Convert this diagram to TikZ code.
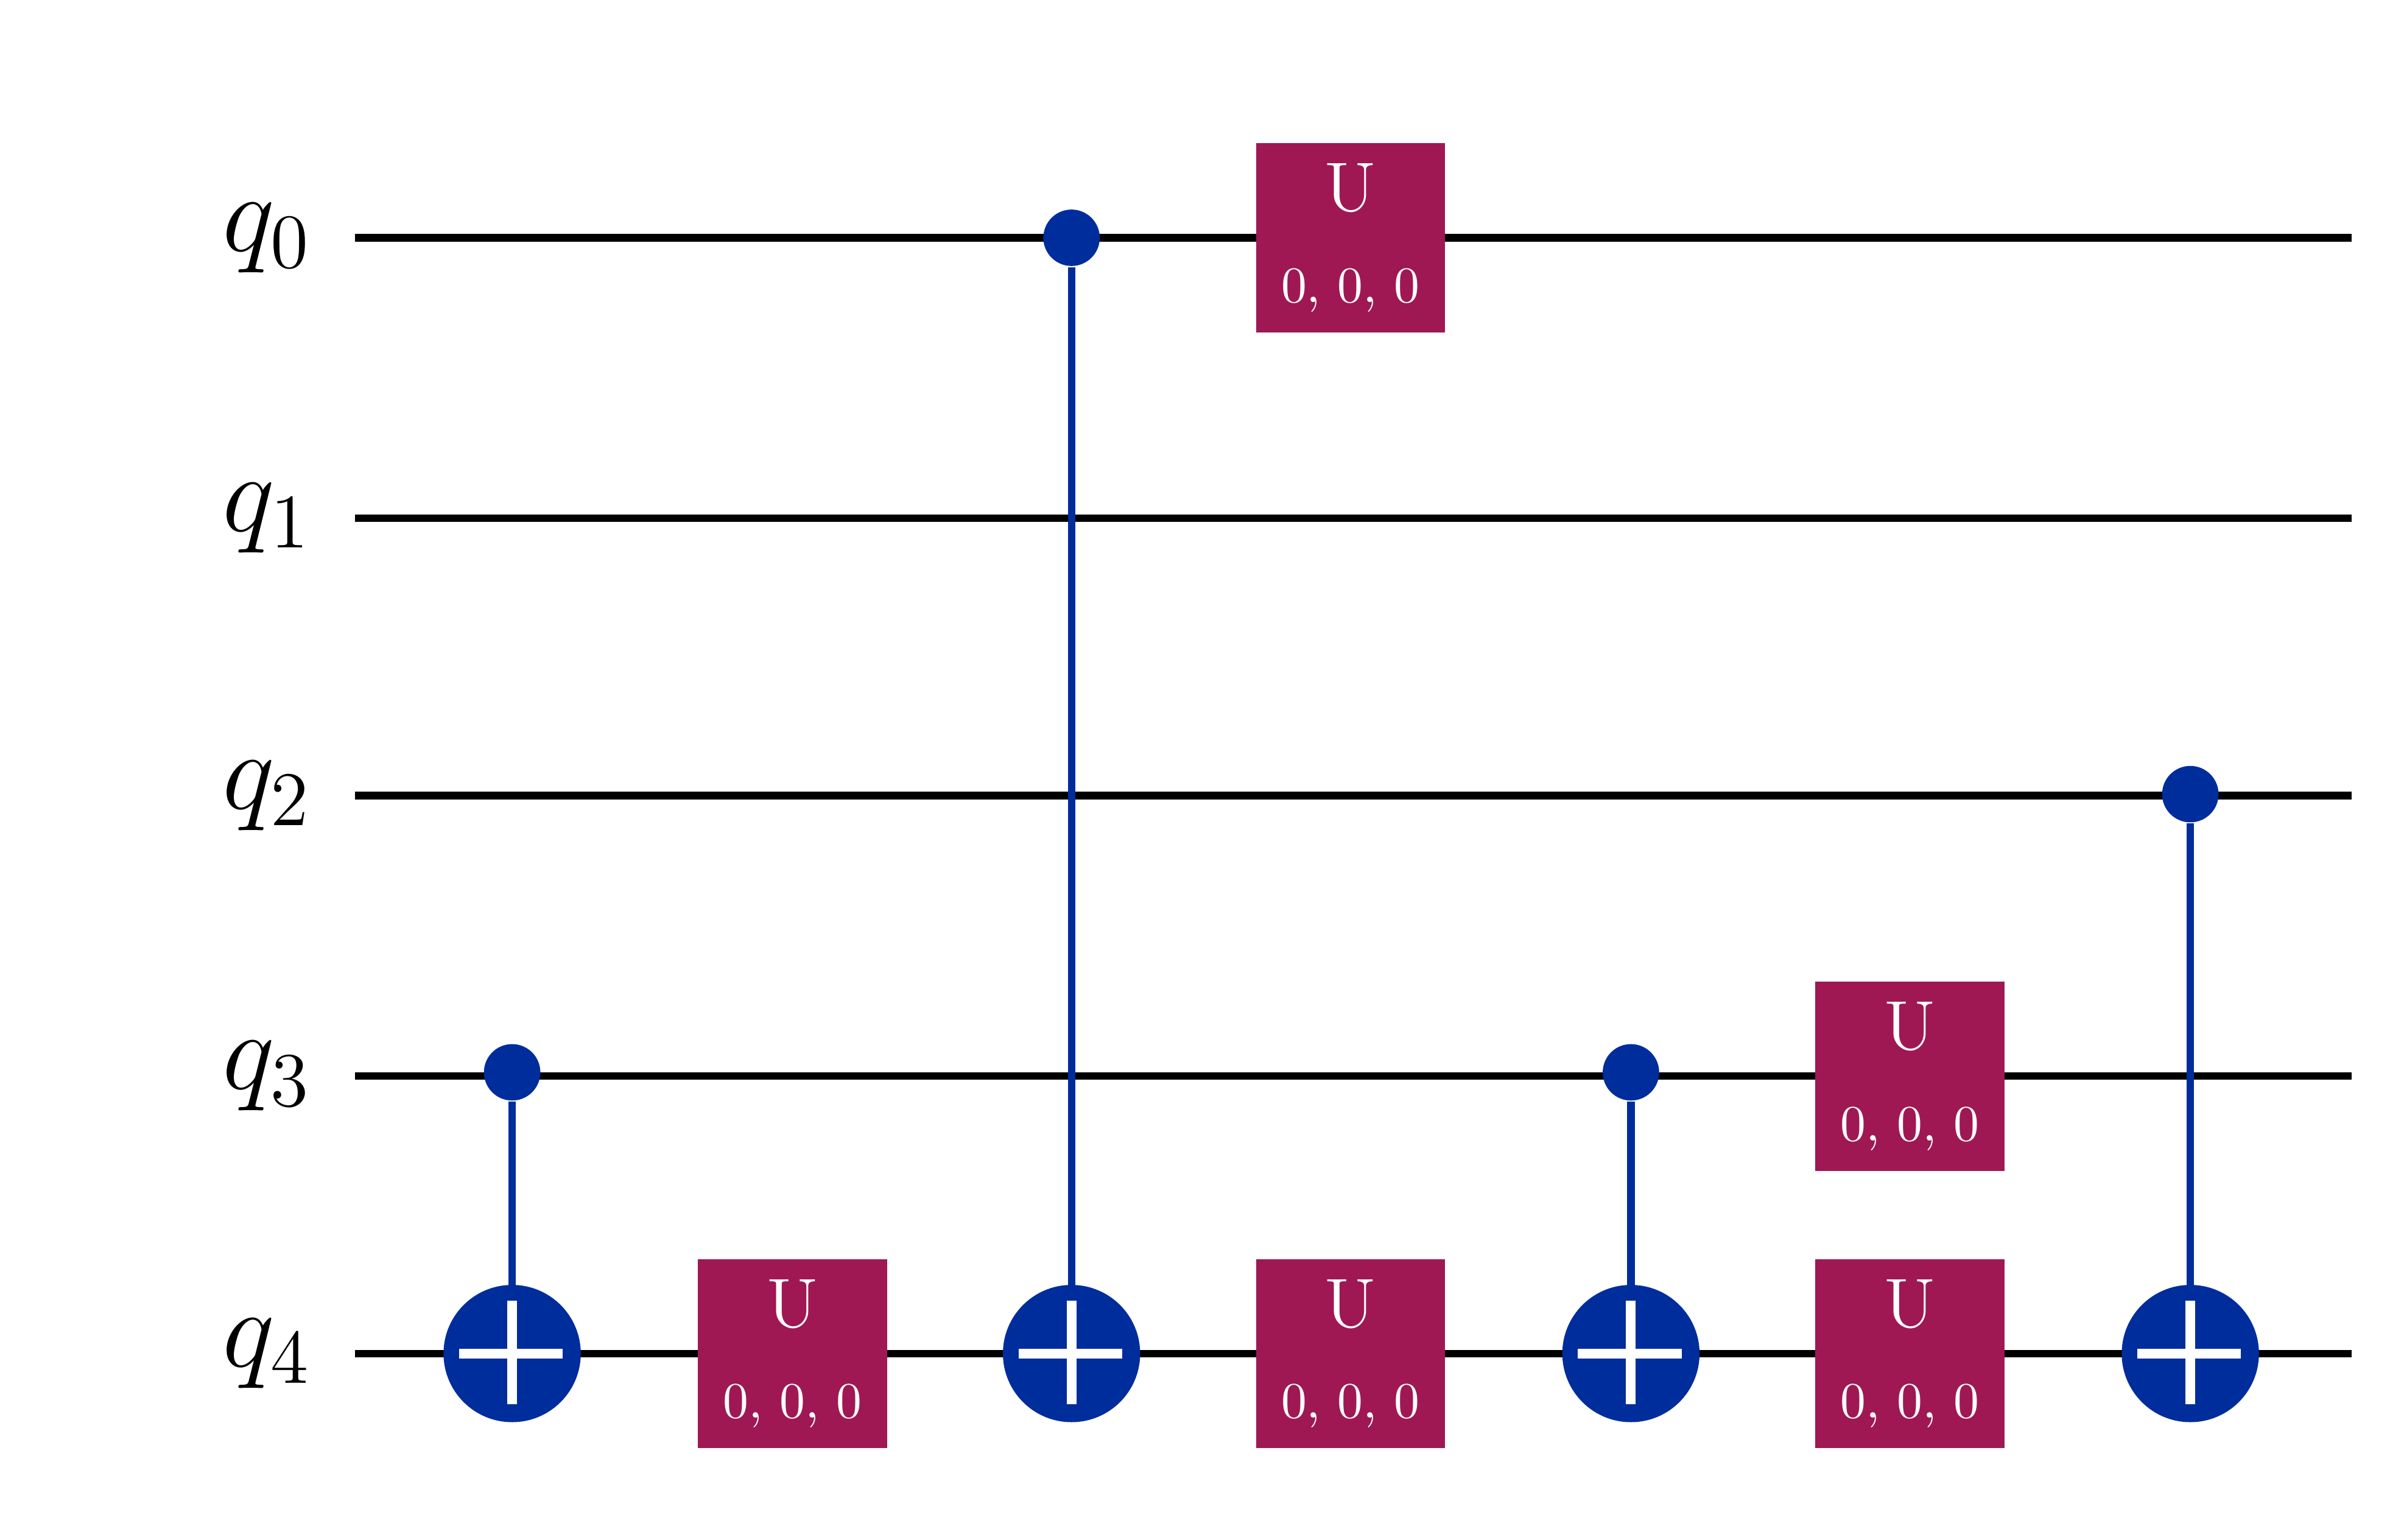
\documentclass[tikz,border=0pt]{standalone}
\usetikzlibrary{positioning}
\definecolor{ctrlblue}{HTML}{002D9C}
\definecolor{ugate}{HTML}{9F1853}
\begin{document}
\begin{tikzpicture}[x=0.01cm,y=-0.01cm,
    wire/.style={line width=1.4pt},
    ctrl/.style={circle,fill=ctrlblue,inner sep=0pt,minimum size=0.37cm},
    targ/.style={circle,fill=ctrlblue,inner sep=0pt,minimum size=0.9cm},
    link/.style={ctrlblue,line width=1.4pt},
    ubox/.style={fill=ugate,minimum size=1.24cm,inner sep=0pt,text=white,
      align=center,font=\fontsize{13}{15}\selectfont}
    ]
    \useasboundingbox (0,0) rectangle (1568,1010);

    % wires and labels
    \foreach \i/\y in {0/156,1/340,2/522,3/706,4/888} {
      \node (q\i) at (175,\y) {\fontsize{20}{24}\selectfont$q_{\i}$};
      \coordinate (s\i) at (233,\y);
      \coordinate (e\i) at (1543,\y);
      \draw[wire] (s\i) -- (e\i);
    }

    % controlled nots
    \foreach \n/\x/\c in {a/336/3,b/703/0,c/1070/3,d/1437/2} {
      \node (t\n) [targ] at (\x,888) {};
      \node (c\n) [ctrl] at (\x,\c*182.5+156) {};
      \draw[link] (c\n) -- (t\n.center);
      \draw[white,line width=1.8pt] (t\n.north) ++(0,11) -- ++(0,68)
        (t\n.west) ++(11,0) -- ++(68,0);
    }

    % U gates
    \foreach \n/\x/\y in {ua/520/888,ub/886/156,uc/886/888,ud/1253/706,ue/1253/888}
      \node (\n) [ubox] at (\x,\y)
        {U\\[2pt]{\fontsize{9.5}{11}\selectfont 0, 0, 0}};
  \end{tikzpicture}
\end{document}
